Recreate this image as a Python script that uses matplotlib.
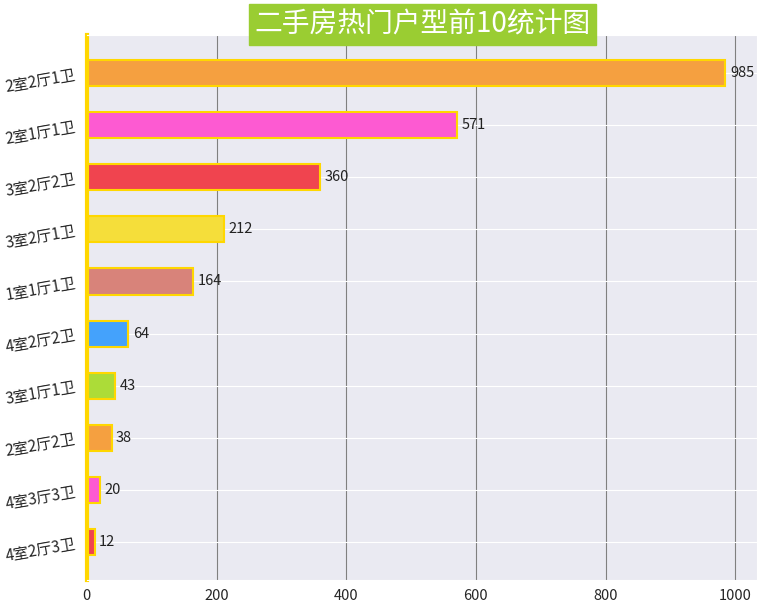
import matplotlib
matplotlib.use("Agg")
import matplotlib.pyplot as plt
import seaborn as sns

# top 10 layouts and counts
layouts = ['2室2厅1卫', '2室1厅1卫', '3室2厅2卫', '3室2厅1卫', '1室1厅1卫',
           '4室2厅2卫', '3室1厅1卫', '2室2厅2卫', '4室3厅3卫', '4室2厅3卫']
counts = [985, 571, 360, 212, 164, 64, 43, 38, 20, 12]
colors = ['#f5a040', '#fd5ad2', '#f0444f', '#f5de3a', '#d8837a',
          '#44a2fc', '#acdc38', '#f5a040', '#fd5ad2', '#f0444f']

sns.set_style('darkgrid')
plt.rcParams['font.family'] = ['Noto Sans CJK SC', 'DejaVu Sans']
plt.rcParams['axes.unicode_minus'] = False

fig, ax = plt.subplots(figsize=(7.62, 6.09), dpi=100)
ys = list(range(len(layouts)))[::-1]
ax.barh(ys, counts, height=0.5, color=colors, edgecolor='#ffd700', linewidth=1.5)

for y, c in zip(ys, counts):
    ax.text(c + 7, y, str(c), va='center', ha='left', fontsize=10.5, color='#222222')

ax.set_yticks(ys)
ax.set_yticklabels(layouts, rotation=10, fontsize=11)
ax.tick_params(axis='x', labelsize=10.5)
ax.grid(axis='x', color='gray', linewidth=0.8)
ax.spines['left'].set_visible(True)
ax.spines['left'].set_color('#ffd700')
ax.spines['left'].set_linewidth(3)

ax.set_title('二手房热门户型前10统计图', fontsize=20, color='white',
             backgroundcolor='#9acd32', pad=2)

plt.subplots_adjust(left=0.114, right=0.994, top=0.942, bottom=0.048)
plt.savefig('out.png', dpi=100)
